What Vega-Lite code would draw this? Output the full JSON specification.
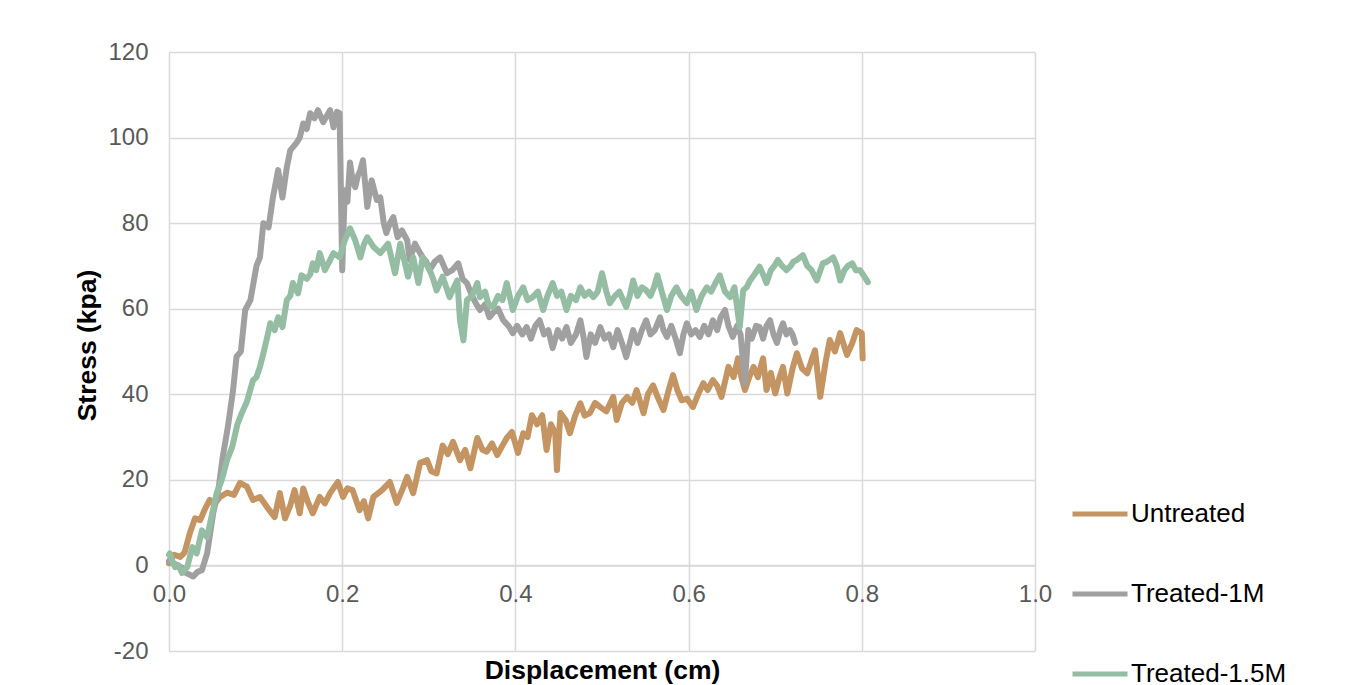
{
  "$schema": "https://vega.github.io/schema/vega-lite/v6.json",
  "width": 866,
  "height": 599,
  "autosize": {"type": "none"},
  "padding": {"left": 169, "top": 52, "right": 310, "bottom": 34},
  "background": "white",
  "config": {
    "view": {"stroke": null},
    "font": "Liberation Sans"
  },
  "datasets": {
    "tan": [[0,0.5],[0.001,1.3],[0.006,2.5],[0.013,2],[0.018,3],[0.024,7.5],[0.03,11],[0.036,10.6],[0.042,13.4],[0.047,15.3],[0.053,14.5],[0.059,16],[0.067,17],[0.075,16.5],[0.082,19.3],[0.09,18.4],[0.097,15.3],[0.105,16],[0.113,13.7],[0.122,11.3],[0.128,16.9],[0.134,11],[0.14,14],[0.145,17.6],[0.151,12.2],[0.155,18],[0.16,15],[0.166,12.2],[0.174,16],[0.18,14.5],[0.186,16.9],[0.195,19.5],[0.201,16],[0.206,18],[0.212,17.6],[0.22,12.9],[0.225,15],[0.23,11],[0.236,16],[0.246,17.6],[0.255,19.5],[0.263,14.6],[0.27,18],[0.275,20.7],[0.282,16.9],[0.29,24],[0.298,24.6],[0.303,22],[0.309,21.5],[0.316,28],[0.322,26],[0.328,28.9],[0.336,24.6],[0.342,27],[0.348,22.7],[0.356,29.8],[0.362,27],[0.367,26.6],[0.373,28.5],[0.379,25.8],[0.385,28],[0.39,29.8],[0.396,31.2],[0.403,26.3],[0.409,30.9],[0.414,30],[0.419,35.1],[0.425,33],[0.431,35.1],[0.436,27],[0.441,33],[0.446,31],[0.448,22.3],[0.452,35.6],[0.458,34],[0.463,30.9],[0.469,35],[0.475,37.9],[0.48,35],[0.486,35.6],[0.492,38],[0.498,37],[0.505,36],[0.513,39.4],[0.517,34],[0.523,38],[0.529,39.4],[0.535,38],[0.54,41],[0.548,35.6],[0.553,40],[0.559,42.1],[0.565,39],[0.571,36.3],[0.577,41],[0.582,44.5],[0.587,41],[0.592,38.6],[0.598,39],[0.605,37],[0.611,40],[0.617,42.6],[0.622,41],[0.628,43.3],[0.633,42],[0.638,39.4],[0.646,46.4],[0.652,44],[0.657,48.4],[0.661,44],[0.665,41],[0.67,44],[0.675,46.4],[0.68,44],[0.686,48.4],[0.69,41],[0.695,45],[0.7,40.2],[0.705,44],[0.709,46.4],[0.714,40.2],[0.72,46],[0.725,49.6],[0.731,46],[0.737,44.9],[0.742,48],[0.746,50.3],[0.752,39.4],[0.758,47.3],[0.763,52.7],[0.769,50],[0.775,54.3],[0.78,51],[0.783,49.2],[0.789,52],[0.794,55],[0.8,54.3],[0.801,48.4]],
    "gray": [[0,1],[0.005,0.5],[0.01,0],[0.015,-0.5],[0.02,-1.8],[0.028,-2.6],[0.033,-1.5],[0.038,-1.1],[0.044,2.8],[0.051,12.2],[0.057,17.6],[0.062,25.3],[0.068,32.4],[0.074,41],[0.078,48.8],[0.083,50],[0.088,59.7],[0.094,62],[0.101,70],[0.105,72],[0.109,80],[0.115,79],[0.12,86],[0.126,92.4],[0.131,86],[0.136,93],[0.14,97],[0.147,98.7],[0.151,100],[0.155,103.3],[0.159,102],[0.163,105.7],[0.168,104.5],[0.172,106.4],[0.178,103.6],[0.182,105],[0.186,106.4],[0.19,102.4],[0.194,106],[0.197,105.7],[0.2,69],[0.203,87.7],[0.206,85],[0.209,94.2],[0.212,90],[0.215,88.4],[0.218,91],[0.221,92.4],[0.224,94.7],[0.229,83.8],[0.234,90],[0.24,85.4],[0.244,86],[0.248,80],[0.251,77.7],[0.255,80],[0.259,81.4],[0.264,76.7],[0.269,78.3],[0.275,76],[0.278,71.4],[0.284,75.2],[0.29,73],[0.293,72],[0.297,71],[0.301,69],[0.307,71],[0.313,72],[0.321,68.3],[0.327,69],[0.334,70.6],[0.339,67],[0.344,66],[0.35,63],[0.355,61],[0.359,59.7],[0.365,61],[0.37,58],[0.374,59],[0.38,60],[0.386,57.3],[0.392,56],[0.397,54.3],[0.402,56],[0.408,54],[0.413,55.7],[0.418,53],[0.423,56],[0.428,57.3],[0.433,54],[0.438,55],[0.443,50.8],[0.449,55],[0.454,53],[0.459,55.7],[0.464,52],[0.47,54],[0.475,57.3],[0.479,53],[0.482,48.7],[0.487,54],[0.492,52],[0.498,55.7],[0.503,53],[0.508,54],[0.513,51],[0.518,55],[0.523,52],[0.528,48.7],[0.536,55],[0.541,52],[0.546,55],[0.551,57.3],[0.556,54],[0.561,55],[0.567,58],[0.571,55],[0.575,53.4],[0.58,56],[0.585,53],[0.59,49.6],[0.594,54],[0.598,56.6],[0.603,54],[0.608,55],[0.613,53.4],[0.618,56],[0.623,54],[0.628,57.3],[0.633,55],[0.637,58],[0.642,59.7],[0.646,56],[0.651,53.4],[0.656,56],[0.66,54],[0.665,42.6],[0.669,55],[0.673,53],[0.678,56],[0.682,55.7],[0.686,53],[0.69,56],[0.694,57.3],[0.698,54],[0.702,52],[0.706,55],[0.709,56.6],[0.713,54],[0.717,55],[0.72,54],[0.723,52]],
    "green": [[0,2.5],[0.001,2.8],[0.004,1],[0.007,-0.4],[0.011,0],[0.015,-1.8],[0.021,-0.4],[0.027,4.3],[0.032,2.8],[0.038,8.2],[0.044,6.6],[0.05,12.2],[0.055,16.9],[0.061,20],[0.067,24.6],[0.073,27.7],[0.079,33],[0.084,35.6],[0.09,38.3],[0.097,43.3],[0.101,44],[0.105,46.4],[0.109,49.6],[0.113,53],[0.117,56.6],[0.122,55],[0.126,58],[0.131,55.7],[0.136,62],[0.14,63],[0.143,66],[0.149,63.6],[0.153,67.8],[0.159,67],[0.163,68],[0.166,70.6],[0.17,69],[0.174,73],[0.18,69],[0.185,71],[0.19,73],[0.197,72],[0.203,76],[0.209,78.8],[0.215,76],[0.221,72],[0.225,75],[0.229,76.7],[0.236,74.5],[0.244,73],[0.248,74],[0.253,75.2],[0.261,68.3],[0.267,75.2],[0.272,71],[0.276,67.5],[0.282,72],[0.288,66],[0.293,72],[0.301,69],[0.305,67],[0.309,64.3],[0.316,67.5],[0.324,62.7],[0.329,65],[0.333,66.6],[0.336,57.3],[0.34,52.6],[0.344,62],[0.35,63],[0.356,66],[0.359,62.7],[0.365,64],[0.369,61],[0.374,60.4],[0.38,63],[0.385,62],[0.39,66],[0.397,59.7],[0.403,63],[0.409,65],[0.414,62],[0.42,62.7],[0.426,64],[0.432,59.7],[0.437,63],[0.443,66],[0.448,63],[0.453,64],[0.459,59.7],[0.464,63],[0.47,62],[0.475,65],[0.48,63],[0.485,64],[0.49,62.7],[0.495,64],[0.5,68.3],[0.505,64],[0.509,61.3],[0.515,63],[0.52,64],[0.528,60.4],[0.532,63],[0.536,66.6],[0.541,63],[0.546,65],[0.551,64.3],[0.556,63],[0.56,65],[0.564,67.8],[0.569,64],[0.575,59.7],[0.58,63],[0.586,65],[0.591,63],[0.598,61.3],[0.603,64],[0.609,59.7],[0.615,63],[0.621,65],[0.626,64],[0.631,66],[0.636,67.8],[0.642,64],[0.648,62.7],[0.653,65],[0.659,55.7],[0.663,64.3],[0.667,65],[0.671,66.6],[0.676,68],[0.682,69.8],[0.686,68],[0.69,66],[0.695,69],[0.699,70],[0.703,71.4],[0.708,70],[0.713,69],[0.718,70],[0.721,71],[0.725,71.4],[0.732,72.5],[0.737,70],[0.742,69],[0.748,66.6],[0.755,70.6],[0.76,71],[0.767,72],[0.771,70],[0.775,66.6],[0.78,69],[0.784,70],[0.789,70.6],[0.793,69],[0.798,69],[0.803,67.5],[0.807,66.2]]
  },
  "layer": [
    {
      "data": {"name": "tan"},
      "transform": [
        {"calculate": "datum[0]", "as": "Displacement"},
        {"calculate": "datum[1]", "as": "Stress"},
        {"calculate": "'Untreated'", "as": "Series"}
      ],
      "mark": {"type": "line", "strokeWidth": 6, "strokeCap": "round", "strokeJoin": "round"},
      "encoding": {
        "x": {"field": "Displacement", "type": "quantitative"},
        "y": {"field": "Stress", "type": "quantitative"},
        "color": {"field": "Series", "type": "nominal"}
      }
    },
    {
      "data": {"name": "gray"},
      "transform": [
        {"calculate": "datum[0]", "as": "Displacement"},
        {"calculate": "datum[1]", "as": "Stress"},
        {"calculate": "'Treated-1M'", "as": "Series"}
      ],
      "mark": {"type": "line", "strokeWidth": 6, "strokeCap": "round", "strokeJoin": "round"},
      "encoding": {
        "x": {"field": "Displacement", "type": "quantitative"},
        "y": {"field": "Stress", "type": "quantitative"},
        "color": {"field": "Series", "type": "nominal"}
      }
    },
    {
      "data": {"name": "green"},
      "transform": [
        {"calculate": "datum[0]", "as": "Displacement"},
        {"calculate": "datum[1]", "as": "Stress"},
        {"calculate": "'Treated-1.5M'", "as": "Series"}
      ],
      "mark": {"type": "line", "strokeWidth": 6, "strokeCap": "round", "strokeJoin": "round"},
      "encoding": {
        "x": {
          "field": "Displacement", "type": "quantitative",
          "scale": {"domain": [0, 1], "nice": false, "zero": false},
          "axis": {
            "title": "Displacement (cm)",
            "values": [0, 0.2, 0.4, 0.6, 0.8, 1.0],
            "format": ".1f",
            "offset": -85.6,
            "grid": true, "gridColor": "#d9d9d9", "gridWidth": 1.5,
            "domain": true, "domainColor": "#d9d9d9", "domainWidth": 1.5,
            "ticks": false,
            "labelFontSize": 24, "labelColor": "#595959", "labelPadding": 17,
            "labelFlush": false, "labelOverlap": false,
            "titleFontSize": 26.5, "titleFontWeight": "bold", "titleColor": "#000000",
            "titleX": 433, "titleY": 104.6, "titleBaseline": "middle", "titleAlign": "center"
          }
        },
        "y": {
          "field": "Stress", "type": "quantitative",
          "scale": {"domain": [-20, 120], "nice": false, "zero": false},
          "axis": {
            "title": "Stress (kpa)",
            "values": [-20, 0, 20, 40, 60, 80, 100, 120],
            "labelExpr": "'' + datum.value",
            "grid": true, "gridColor": "#d9d9d9", "gridWidth": 1.5,
            "domain": false, "ticks": false,
            "labelFontSize": 24, "labelColor": "#595959", "labelPadding": 21,
            "titleFontSize": 26.5, "titleFontWeight": "bold", "titleColor": "#000000",
            "titleX": -82, "titleY": 293, "titleBaseline": "middle", "titleAlign": "center", "titleAngle": -90
          }
        },
        "color": {
          "field": "Series", "type": "nominal",
          "scale": {"domain": ["Untreated", "Treated-1M", "Treated-1.5M"], "range": ["#c49562", "#a0a0a0", "#94bda4"]},
          "legend": {
            "title": null,
            "orient": "none",
            "legendX": 901,
            "legendY": 432,
            "padding": 0,
            "symbolType": "stroke",
            "symbolSize": 3025,
            "symbolStrokeWidth": 5,
            "labelFontSize": 26,
            "labelColor": "#000000",
            "labelOffset": 1,
            "rowPadding": 37,
            "labelLimit": 400
          }
        }
      }
    }
  ]
}
